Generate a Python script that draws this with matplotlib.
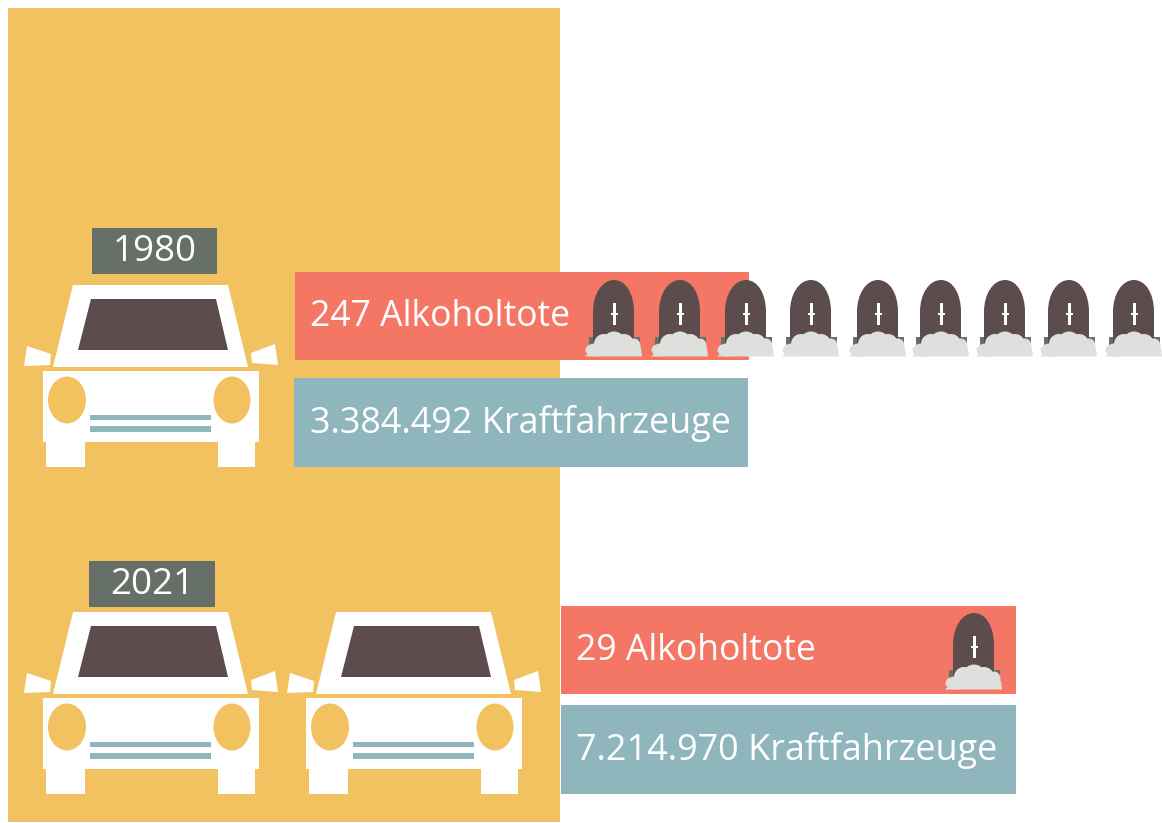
import matplotlib
matplotlib.use("Agg")
import matplotlib.pyplot as plt
from matplotlib.patches import Rectangle, Polygon, Ellipse, PathPatch
from matplotlib.path import Path

# data
years = ["1980", "2021"]
deaths = [247, 29]
vehicles = ["3.384.492", "7.214.970"]
car_counts = [1, 2]
grave_counts = [9, 1]

ORANGE = "#F2C260"
SALMON = "#F47765"
TEAL = "#8FB6BD"
SLATE = "#667067"
BROWN = "#5C4C4D"
GREY = "#DFE0DE"

plt.rcParams["font.family"] = ["Open Sans", "DejaVu Sans"]

fig = plt.figure(figsize=(11.62, 8.23), dpi=100)
ax = fig.add_axes([0, 0, 1, 1])
ax.set_xlim(0, 1162)
ax.set_ylim(823, 0)
ax.axis("off")


def box(x0, x1, y0, y1, color, zorder=2):
    ax.add_patch(Rectangle((x0, y0), x1 - x0, y1 - y0, fc=color, ec="none", zorder=zorder))


def poly(pts, dx, dy, color, zorder=3):
    ax.add_patch(Polygon([(x + dx, y + dy) for x, y in pts], closed=True, fc=color, ec="none", zorder=zorder))


def car(dx, dy):
    poly([(73, 285), (228, 285), (248, 367), (53, 367)], dx, dy, "white")
    poly([(91, 299), (216, 299), (228, 350), (78, 350)], dx, dy, BROWN, 4)
    poly([(27, 346), (51, 354), (50, 365), (24, 366)], dx, dy, "white")
    poly([(275, 344), (251, 353), (252, 363), (278, 365)], dx, dy, "white")
    box(43 + dx, 259 + dx, 371 + dy, 442 + dy, "white", 3)
    box(46 + dx, 85 + dx, 442 + dy, 467 + dy, "white", 3)
    box(218 + dx, 255 + dx, 442 + dy, 467 + dy, "white", 3)
    ax.add_patch(Ellipse((67 + dx, 400 + dy), 38, 47, fc=ORANGE, ec="none", zorder=4))
    ax.add_patch(Ellipse((232 + dx, 400 + dy), 37, 47, fc=ORANGE, ec="none", zorder=4))
    box(90 + dx, 211 + dx, 415 + dy, 420 + dy, TEAL, 4)
    box(90 + dx, 211 + dx, 426 + dy, 432 + dy, TEAL, 4)


def grave(cx, dy):
    box(cx - 25, cx + 26, 337 + dy, 350 + dy, SLATE, 5)
    verts = [(cx - 21, 345 + dy), (cx - 21, 312 + dy),
             (cx - 21, 294 + dy), (cx - 12, 280 + dy), (cx, 280 + dy),
             (cx + 12, 280 + dy), (cx + 20, 294 + dy), (cx + 20, 312 + dy),
             (cx + 20, 345 + dy), (cx - 21, 345 + dy)]
    codes = [Path.MOVETO, Path.LINETO,
             Path.CURVE4, Path.CURVE4, Path.CURVE4,
             Path.CURVE4, Path.CURVE4, Path.CURVE4,
             Path.LINETO, Path.CLOSEPOLY]
    ax.add_patch(PathPatch(Path(verts, codes), fc=BROWN, ec="none", zorder=6))
    box(cx - 1.5, cx + 1.5, 303 + dy, 325 + dy, "white", 7)
    box(cx - 3.5, cx + 3.5, 312.5 + dy, 315 + dy, "white", 7)
    for ex, ey, w, h in [(-19, 350, 19, 13), (-10, 344, 20, 20), (0, 340, 20, 17),
                         (10, 344, 20, 20), (20, 346, 13, 15), (-4, 350, 40, 12)]:
        ax.add_patch(Ellipse((cx + ex, ey + dy), w, h, fc=GREY, ec="none", zorder=8))
    poly([(-29, 356.5), (-20, 348), (27, 348), (28, 356.5)], cx, dy, GREY, 8)


# orange background panel
box(8, 560, 8, 822, ORANGE, 1)

car_y = [0, 327]
car_step = 263
label_box = [(92, 217, 228, 274), (89, 215, 561, 607)]
red_box = [(295, 749, 272, 360), (561, 1016, 606, 694)]
blue_box = [(294, 748, 378, 467), (561, 1016, 705, 794)]
grave_x = [[614, 680, 746, 811, 878, 941, 1005, 1069, 1134], [974]]
grave_y = [0, 333]

for i, year in enumerate(years):
    x0, x1, y0, y1 = label_box[i]
    box(x0, x1, y0, y1, SLATE)
    ax.text((x0 + x1) / 2, (y0 + y1) / 2 + 1, year, color="white", fontsize=26.5,
            ha="center", va="center", zorder=9)

    for c in range(car_counts[i]):
        car(c * car_step, car_y[i])

    x0, x1, y0, y1 = red_box[i]
    box(x0, x1, y0, y1, SALMON)
    ax.text(x0 + 15, (y0 + y1) / 2 + 1, f"{deaths[i]} Alkoholtote", color="white", fontsize=25.6,
            ha="left", va="center", zorder=9)

    x0, x1, y0, y1 = blue_box[i]
    box(x0, x1, y0, y1, TEAL)
    ax.text(x0 + 15.5, (y0 + y1) / 2 + 1, f"{vehicles[i]} Kraftfahrzeuge", color="white", fontsize=25.9,
            ha="left", va="center", zorder=9)

    for cx in grave_x[i][:grave_counts[i]]:
        grave(cx, grave_y[i])

fig.savefig("out.png", dpi=100)
